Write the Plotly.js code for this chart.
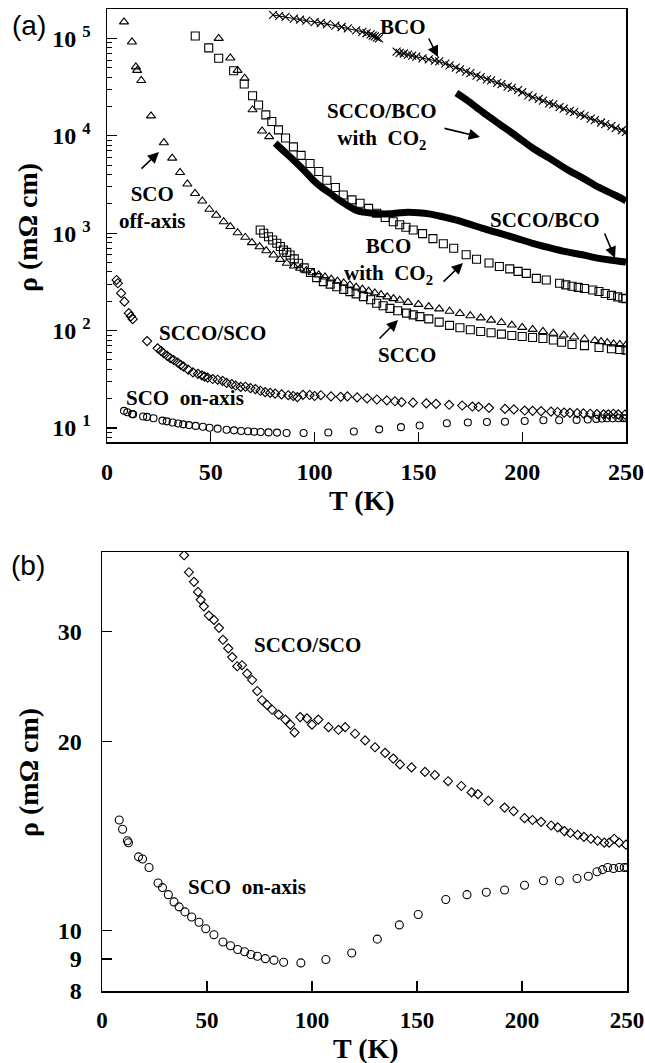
<!DOCTYPE html>
<html>
<head>
<meta charset="utf-8">
<script src="https://cdn.plot.ly/plotly-3.0.1.min.js"></script>
<style>html,body{margin:0;padding:0;background:#fff;}</style>
</head>
<body>
<div id="chart" style="width:645px;height:1063px;"></div>
<script>
// ---------------- data ----------------
// SCO off-axis (triangles)
const scoOffT = [8.2,12,13.9,14.5,16.5,21.2,27.4,31.4,35.2,38.7,42.4,45.9,49.3,52.6,56.2,59.4,62.9,66.6,69.8,73.5,76.7,80.2,83.4,86.6,
  90,93,96,99,102,105,108,111,114,117,120,123,126,129,132,135,138,141,145,150,155,160,165,170,175,180,185,190,195,200,205,210,215,220,225,230,235,238,241,244,247,250];
const scoOffR = [1.48e5,9.2e4,5.1e4,4.7e4,3.7e4,1.6e4,8.5e3,5.9e3,4.2e3,3.2e3,2.56e3,2.14e3,1.76e3,1.53e3,1.31e3,1.17e3,1.01e3,908,800,727,661,597,539,491,
  460,436,412,393,373,355,338,322,308,294,280,266,254,244,234,222,213,205,195,186,176,167,158,150,142,135,128,121,114,108,103,98,94,90,86,82,79,77,75,73,72,71];
// second group of triangles (T 54-78 K)
const scoOff2T = [53.8,59.4,62.9,66.3,70.1,74.7,78.1];
const scoOff2R = [1.0e5,6.3e4,4.7e4,3.9e4,1.85e4,1.12e4,9.8e3];
// BCO with CO2 (squares, upper)
const bcoCo2T = [42.5,49,53.8,61,66.1,70.1,73,76.5,79.4,82.6,86,89.8,93.5,97.8,102,105.9,110,113.8,118,121.9,126,129.9,134,137.9,141,144,147.5,152,157,162,167,173,178,184,189,194,198,202,206.8,211.6,218,221,224,227,230,234,237,240,243,246,248.5,250];
const bcoCo2R = [1.06e5,8.0e4,6.25e4,4.66e4,3.4e4,2.58e4,2.07e4,1.64e4,1.4e4,1.15e4,9.5e3,7.7e3,6.3e3,5.2e3,4.3e3,3.5e3,2.95e3,2.47e3,2.2e3,2.03e3,1.8e3,1.6e3,1.45e3,1.31e3,1.22e3,1.15e3,1.08e3,990,880,780,700,600,540,495,455,430,405,387,344,331,306,295,285,278,270,261,252,240,230,222,215,213];
// SCCO (squares, lower)
const sccoT = [73.8,75.5,77.8,79.8,81.8,83.5,85,86.6,88.2,90.2,92.2,95,98,101,104.2,107.5,110.7,114,117,120,123.5,127,129.9,133,136.3,140,144.3,147.5,150.7,155,160,165,170,175,180,185,190,195,200,205,210,215,219,224,230,237,243,247,250];
const sccoR = [1080,1000,920,850,787,730,673,635,597,545,491,440,395,350,318,300,282,265,251,238,223,207,191,180,169,160,151,145,139,132,122,113,107,102,98,95,92,89,87,85,83,80,76,72,70,67,65,64,63];
// BCO (crosses), two segments
const bcoT = [80,83,86,90,93,96,100,103,106,110,113,116,120,123,125,127,128,129,130,131,
  139.5,141,143,145,147,149,152,155,158,160,163,165,168,170,173,175,178,180,183,185,188,190,193,195,198,200,203,205,208,210,213,215,218,220,223,225,228,230,233,235,238,240,243,245,248,250];
const bcoR = [1.74e5,1.70e5,1.66e5,1.60e5,1.56e5,1.52e5,1.47e5,1.44e5,1.40e5,1.35e5,1.31e5,1.27e5,1.21e5,1.17e5,1.13e5,1.10e5,1.07e5,1.05e5,1.02e5,1.0e5,
  7.3e4,7.1e4,7.0e4,6.8e4,6.65e4,6.5e4,6.25e4,6.1e4,5.9e4,5.8e4,5.5e4,5.3e4,5.0e4,4.8e4,4.55e4,4.4e4,4.15e4,4.0e4,3.8e4,3.7e4,3.5e4,3.4e4,3.2e4,3.1e4,2.95e4,2.8e4,2.6e4,2.5e4,2.4e4,2.3e4,2.15e4,2.1e4,1.97e4,1.9e4,1.8e4,1.75e4,1.66e4,1.6e4,1.5e4,1.45e4,1.37e4,1.32e4,1.26e4,1.2e4,1.14e4,1.1e4];
// SCCO/BCO (thick line)
const sccoBcoT = [81,85,89.8,95,99.4,103,107.5,111,115.5,119,122,126,131.5,136,141,145,150,155,160,166,173,181,189,197,205,213,221,229,237,244,250];
const sccoBcoR = [8.4e3,7.0e3,5.65e3,4.4e3,3.5e3,3.0e3,2.57e3,2.25e3,1.95e3,1.76e3,1.67e3,1.62e3,1.58e3,1.58e3,1.62e3,1.64e3,1.62e3,1.58e3,1.5e3,1.4e3,1.27e3,1.12e3,1.0e3,890,787,710,646,600,552,525,505];
// SCCO/BCO with CO2 (thick line)
const sccoBcoCo2T = [168.3,173,181,189,197,205,213,221,229,237,244,250];
const sccoBcoCo2R = [2.75e4,2.35e4,1.75e4,1.32e4,1.0e4,7.5e3,5.9e3,4.6e3,3.7e3,2.95e3,2.5e3,2.15e3];
// SCCO/SCO (diamonds) - both panels
const sccoScoT = [4.6,5.2,6.8,8.4,10.5,11.5,12.4,19.3,24.4,26,27.3,29,30.5,32.1,34,35.5,36.9,39.1,41.4,43.8,45.7,47,48.5,50.9,53.3,55.7,57.6,60.1,62,64.4,66.7,69.1,71.5,73.9,76.2,78.6,81,84.1,87.3,89.7,91.7,94.4,97.6,100,103,107.9,112.6,115.8,120.5,125.3,130,134.8,138.7,141.9,147.4,153.8,158.5,164.8,171.1,176,179,184,191.7,196,201.2,205,209.1,213.9,217,220.2,223,226.5,229.5,232.8,236,239.2,241.5,243.9,246.3,249.5];
const sccoScoR = [331,306,242,198,151,140,131,78,65.8,62,58.5,55,52,49.9,47,44.5,42.6,39.7,37.3,36.0,34.7,33.7,32.9,31.8,31.3,30.4,29.1,28.2,27.3,26.4,26.5,25.7,25.1,24.1,23.3,22.9,22.5,22.1,21.7,21.3,20.7,21.9,21.8,21.3,21.7,21.1,20.9,21.1,20.6,20.1,19.6,19.2,18.8,18.4,18.2,17.9,17.7,17.3,17.0,16.6,16.5,16.1,15.7,15.5,15.1,15.0,14.9,14.7,14.6,14.4,14.3,14.2,14.1,14.0,13.9,13.8,13.8,14.0,13.8,13.7];
// SCO on-axis (circles) - both panels
const scoOnT = [8.2,9.8,12.1,12.6,17.4,19.3,22.4,26.7,28.8,31.6,34.3,36.7,39.5,42.7,46.2,49.4,53.3,57.6,61.2,64.6,67.9,70.9,74,77.8,81.9,86.5,94.7,106.6,118.9,131.1,141.6,150.6,163.7,173.8,183,191.7,201.2,210.2,217.8,226.2,231.6,235.7,238.4,240.8,243.6,246.3,248.7,250];
const scoOnR = [15.0,14.5,13.9,13.8,13.1,13.0,12.6,11.9,11.7,11.4,11.1,10.9,10.7,10.5,10.3,10.06,9.84,9.58,9.45,9.32,9.24,9.15,9.09,9.01,8.96,8.89,8.87,8.98,9.20,9.68,10.2,10.6,11.2,11.4,11.5,11.6,11.8,12.0,12.0,12.1,12.2,12.4,12.5,12.6,12.55,12.6,12.6,12.6];

// ticks
const xTickVals = [0,50,100,150,200,250];
const xTickText = ['0','50','100','150','200','250'];
const yaTickVals = [10,100,1000,10000,100000];
const yaTickText = ['10 <sup>1</sup>','10 <sup>2</sup>','10 <sup>3</sup>','10 <sup>4</sup>','10 <sup>5</sup>'];
const yaMinorVals = [];
[1,10,100,1000,10000,100000].forEach(d => { for (let m = 2; m <= 9; m++) yaMinorVals.push(d*m); });
const ybTickVals = [8,9,10,20,30];
const ybTickText = ['8','9','10','20','30'];

// ---------------- figure ----------------
const W = 645, H = 1063;
const px = v => v / W, py = v => 1 - v / H;
const blk = 'black';
const SERIF = '"Liberation Serif", "Times New Roman", Times, serif';
function mk(sym, size) { return {symbol: sym, size: size, color: blk, line: {color: blk, width: 1.1}}; }

const traces = [
  {x: scoOffT, y: scoOffR, mode: 'markers', marker: mk('triangle-up-open', 8), xaxis: 'x', yaxis: 'y'},
  {x: scoOff2T, y: scoOff2R, mode: 'markers', marker: mk('triangle-up-open', 8), xaxis: 'x', yaxis: 'y'},
  {x: bcoCo2T, y: bcoCo2R, mode: 'markers', marker: mk('square-open', 8), xaxis: 'x', yaxis: 'y'},
  {x: sccoT, y: sccoR, mode: 'markers', marker: mk('square-open', 8), xaxis: 'x', yaxis: 'y'},
  {x: bcoT.slice(0,20), y: bcoR.slice(0,20), mode: 'lines+markers', line: {color: blk, width: 1}, marker: mk('x-thin-open', 8), xaxis: 'x', yaxis: 'y'},
  {x: bcoT.slice(20), y: bcoR.slice(20), mode: 'lines+markers', line: {color: blk, width: 1}, marker: mk('x-thin-open', 8), xaxis: 'x', yaxis: 'y'},
  {x: sccoBcoT, y: sccoBcoR, mode: 'lines', line: {color: blk, width: 7, shape: 'spline'}, xaxis: 'x', yaxis: 'y'},
  {x: sccoBcoCo2T, y: sccoBcoCo2R, mode: 'lines', line: {color: blk, width: 7, shape: 'spline'}, xaxis: 'x', yaxis: 'y'},
  {x: sccoScoT, y: sccoScoR, mode: 'markers', marker: mk('diamond-open', 7), xaxis: 'x', yaxis: 'y'},
  {x: scoOnT, y: scoOnR, mode: 'markers', marker: mk('circle-open', 7), xaxis: 'x', yaxis: 'y'},
  // panel (b)
  {x: sccoScoT, y: sccoScoR, mode: 'markers', marker: mk('diamond-open', 7), xaxis: 'x2', yaxis: 'y2'},
  {x: scoOnT, y: scoOnR, mode: 'markers', marker: mk('circle-open', 8), xaxis: 'x2', yaxis: 'y2'}
];

const tickFont = {family: SERIF, size: 24, weight: 'bold', color: blk};
const axBase = {showline: true, linecolor: blk, linewidth: 1.5, mirror: true, showgrid: false, zeroline: false,
  ticks: 'inside', tickcolor: blk, tickwidth: 1.2, automargin: false, tickfont: tickFont, ticklabeloverflow: 'allow'};

const layout = {
  width: W, height: H,
  margin: {l: 0, r: 0, t: 0, b: 0},
  paper_bgcolor: 'white', plot_bgcolor: 'white',
  showlegend: false,
  font: {family: SERIF, color: blk},
  xaxis: Object.assign({}, axBase, {domain: [px(107), px(626)], range: [0, 250], anchor: 'y',
    tickmode: 'array', tickvals: xTickVals, ticktext: xTickText, ticklen: 10, ticklabelstandoff: 8}),
  yaxis: Object.assign({}, axBase, {domain: [py(442), py(9)], type: 'log', range: [0.856, 5.302], anchor: 'x',
    tickmode: 'array', tickvals: yaTickVals, ticktext: yaTickText, ticklen: 10, ticklabelstandoff: 10,
    minor: {tickmode: 'array', tickvals: yaMinorVals, ticks: 'inside', ticklen: 5, tickcolor: blk, tickwidth: 1}}),
  xaxis2: Object.assign({}, axBase, {domain: [px(102), px(627)], range: [0, 250], anchor: 'y2',
    tickmode: 'array', tickvals: xTickVals, ticktext: xTickText, ticklen: 10, ticklabelstandoff: 8,
    tickfont: {family: SERIF, size: 23, weight: 'bold', color: blk}}),
  yaxis2: Object.assign({}, axBase, {domain: [py(991), py(552)], type: 'log', range: [Math.log10(8), 1.604], anchor: 'x2',
    tickmode: 'array', tickvals: ybTickVals, ticktext: ybTickText, ticklen: 10, ticklabelstandoff: 14}),
  annotations: []
};

const lblFont = {family: SERIF, size: 21, weight: 'bold', color: blk};
function label(text, x, y, font) {
  layout.annotations.push({text: text, x: px(x), y: py(y), xref: 'paper', yref: 'paper',
    xanchor: 'center', yanchor: 'middle', showarrow: false, font: font || lblFont});
}
function arrow(tx, ty, hx, hy) {
  layout.annotations.push({text: '', x: px(hx), y: py(hy), xref: 'paper', yref: 'paper',
    ax: tx - hx, ay: ty - hy, showarrow: true, arrowhead: 2, arrowsize: 1.4, arrowwidth: 1.6,
    arrowcolor: blk, standoff: 0, startstandoff: 0});
}
const NB = '\u00a0';
// panel (a)
label('BCO', 403, 27);
arrow(428, 37, 438, 57);
label('SCCO/BCO<br>with' + NB + NB + 'CO<sub>2</sub>', 382, 126);
arrow(443, 128, 480, 137);
label('SCCO/BCO', 545, 220);
arrow(604, 232, 615, 258);
label('BCO<br>with' + NB + NB + 'CO<sub>2</sub>', 388, 261);
arrow(442, 283, 463, 263);
label('SCCO', 407, 355);
arrow(378, 340, 398, 320);
label('SCO<br>off-axis', 152, 207);
arrow(140, 170, 159, 152);
label('SCCO/SCO', 212, 333);
label('SCO' + NB + NB + 'on-axis', 185, 398);
// panel (b)
label('SCCO/SCO', 307, 645);
label('SCO' + NB + NB + 'on-axis', 247, 887);
// panel letters
const letFont = {family: '"Liberation Sans", Arial, sans-serif', size: 28, color: blk};
label('(a)', 29, 25, letFont);
label('(b)', 28, 565, letFont);
// axis titles
const titFont = {family: SERIF, size: 28, weight: 'bold', color: blk};
label('T (K)', 362, 500, titFont);
label('T (K)', 366, 1048, titFont);
layout.annotations.push({text: 'ρ (mΩ cm)', x: px(28), y: py(228), xref: 'paper', yref: 'paper',
  xanchor: 'center', yanchor: 'middle', showarrow: false, textangle: -90, font: titFont});
layout.annotations.push({text: 'ρ (mΩ cm)', x: px(28), y: py(773), xref: 'paper', yref: 'paper',
  xanchor: 'center', yanchor: 'middle', showarrow: false, textangle: -90, font: titFont});

Plotly.newPlot('chart', traces, layout, {staticPlot: true, displayModeBar: false});
</script>
</body>
</html>
